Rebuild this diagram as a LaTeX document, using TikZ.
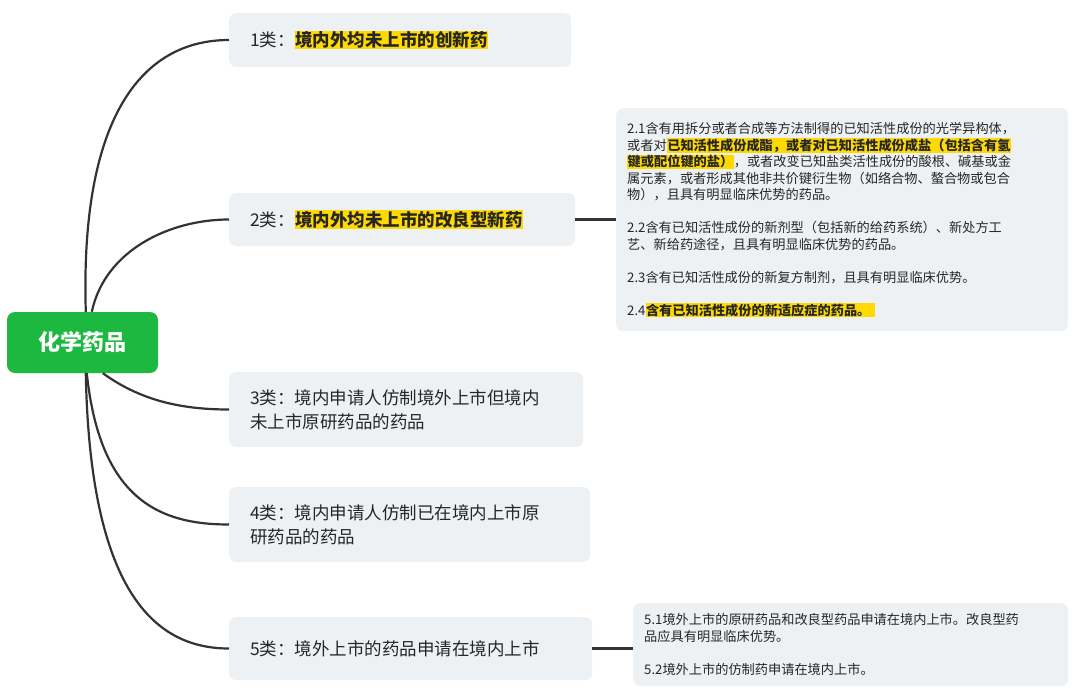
\documentclass[tikz,border=0pt]{standalone}
\usepackage{fontspec}
\newfontfamily\cjk{Noto Sans CJK SC}
\usetikzlibrary{calc}
\definecolor{boxbg}{HTML}{EEF1F4}
\definecolor{rootg}{HTML}{1DB83F}
\definecolor{hl}{HTML}{FFDA00}
\definecolor{linec}{HTML}{333333}
\newcommand{\hlt}[1]{{\setlength{\fboxsep}{0.5pt}\colorbox{hl}{\bfseries #1}}}
\begin{document}
\begin{tikzpicture}[x=1pt,y=-1pt,
  cat/.style={fill=boxbg,rounded corners=7pt,anchor=west,inner xsep=21pt,inner ysep=0pt,align=left,font=\cjk\fontsize{17.5}{24}\selectfont,text=black!85},
  det/.style={fill=boxbg,rounded corners=7pt,anchor=north west,inner xsep=11pt,inner ysep=0pt,align=left,font=\cjk\fontsize{13.2}{16.5}\selectfont,text=black!85},
  conn/.style={draw=linec,line width=2.2pt}]
\useasboundingbox (0,0) rectangle (1080,693);
\node[fill=rootg,rounded corners=8pt,minimum width=151pt,minimum height=61pt,text=white,font=\cjk\bfseries\fontsize{22}{26}\selectfont] (root) at (82.5,342.5) {化学药品};
\node[cat,text width=300pt,minimum height=54pt] (b1) at (229,40) {1类：\hlt{境内外均未上市的创新药}};
\node[cat,text width=304pt,minimum height=53pt] (b2) at (229,219.5) {2类：\hlt{境内外均未上市的改良型新药}};
\node[cat,text width=312pt,minimum height=75pt] (b3) at (229,409.5) {3类：境内申请人仿制境外上市但境内\\未上市原研药品的药品};
\node[cat,text width=319pt,minimum height=75pt] (b4) at (229,524.5) {4类：境内申请人仿制已在境内上市原\\研药品的药品};
\node[cat,text width=321pt,minimum height=63pt] (b5) at (229,648.5) {5类：境外上市的药品申请在境内上市};
\node[det,text width=430pt,minimum height=223pt] (d2) at (616,108) {2.1含有用拆分或者合成等方法制得的已知活性成份的光学异构体，\\或者对\hlt{已知活性成份成酯，或者对已知活性成份成盐（包括含有氢}\\\hlt{键或配位键的盐）}，或者改变已知盐类活性成份的酸根、碱基或金\\属元素，或者形成其他非共价键衍生物（如络合物、螯合物或包合\\物），且具有明显临床优势的药品。\\[16.5pt]2.2含有已知活性成份的新剂型（包括新的给药系统）、新处方工\\艺、新给药途径，且具有明显临床优势的药品。\\[16.5pt]2.3含有已知活性成份的新复方制剂，且具有明显临床优势。\\[16.5pt]2.4\hlt{含有已知活性成份的新适应症的药品。\ }};
\node[det,text width=413pt,minimum height=83pt] (d5) at (633,603) {\\[-6pt]5.1境外上市的原研药品和改良型药品申请在境内上市。改良型药\\品应具有明显临床优势。\\[16.5pt]5.2境外上市的仿制药申请在境内上市。};
\draw[conn] ($(root.north west)+(79,0)$) .. controls (80,120) and (140,40) .. (b1.west);
\draw[conn] ($(root.north west)+(85,0)$) .. controls (105,250) and (170,219.5) .. (b2.west);
\draw[conn] ($(root.south west)+(96,0)$) .. controls (140,400) and (180,409.5) .. (b3.west);
\draw[conn] ($(root.south west)+(80,0)$) .. controls (100,500) and (160,524.5) .. (b4.west);
\draw[conn] ($(root.south west)+(79,0)$) .. controls (90,600) and (160,648.5) .. (b5.west);
\draw[conn] (b2.east) -- (d2.west |- b2.east);
\draw[conn] (b5.east) -- (d5.west |- b5.east);
\end{tikzpicture}
\end{document}
